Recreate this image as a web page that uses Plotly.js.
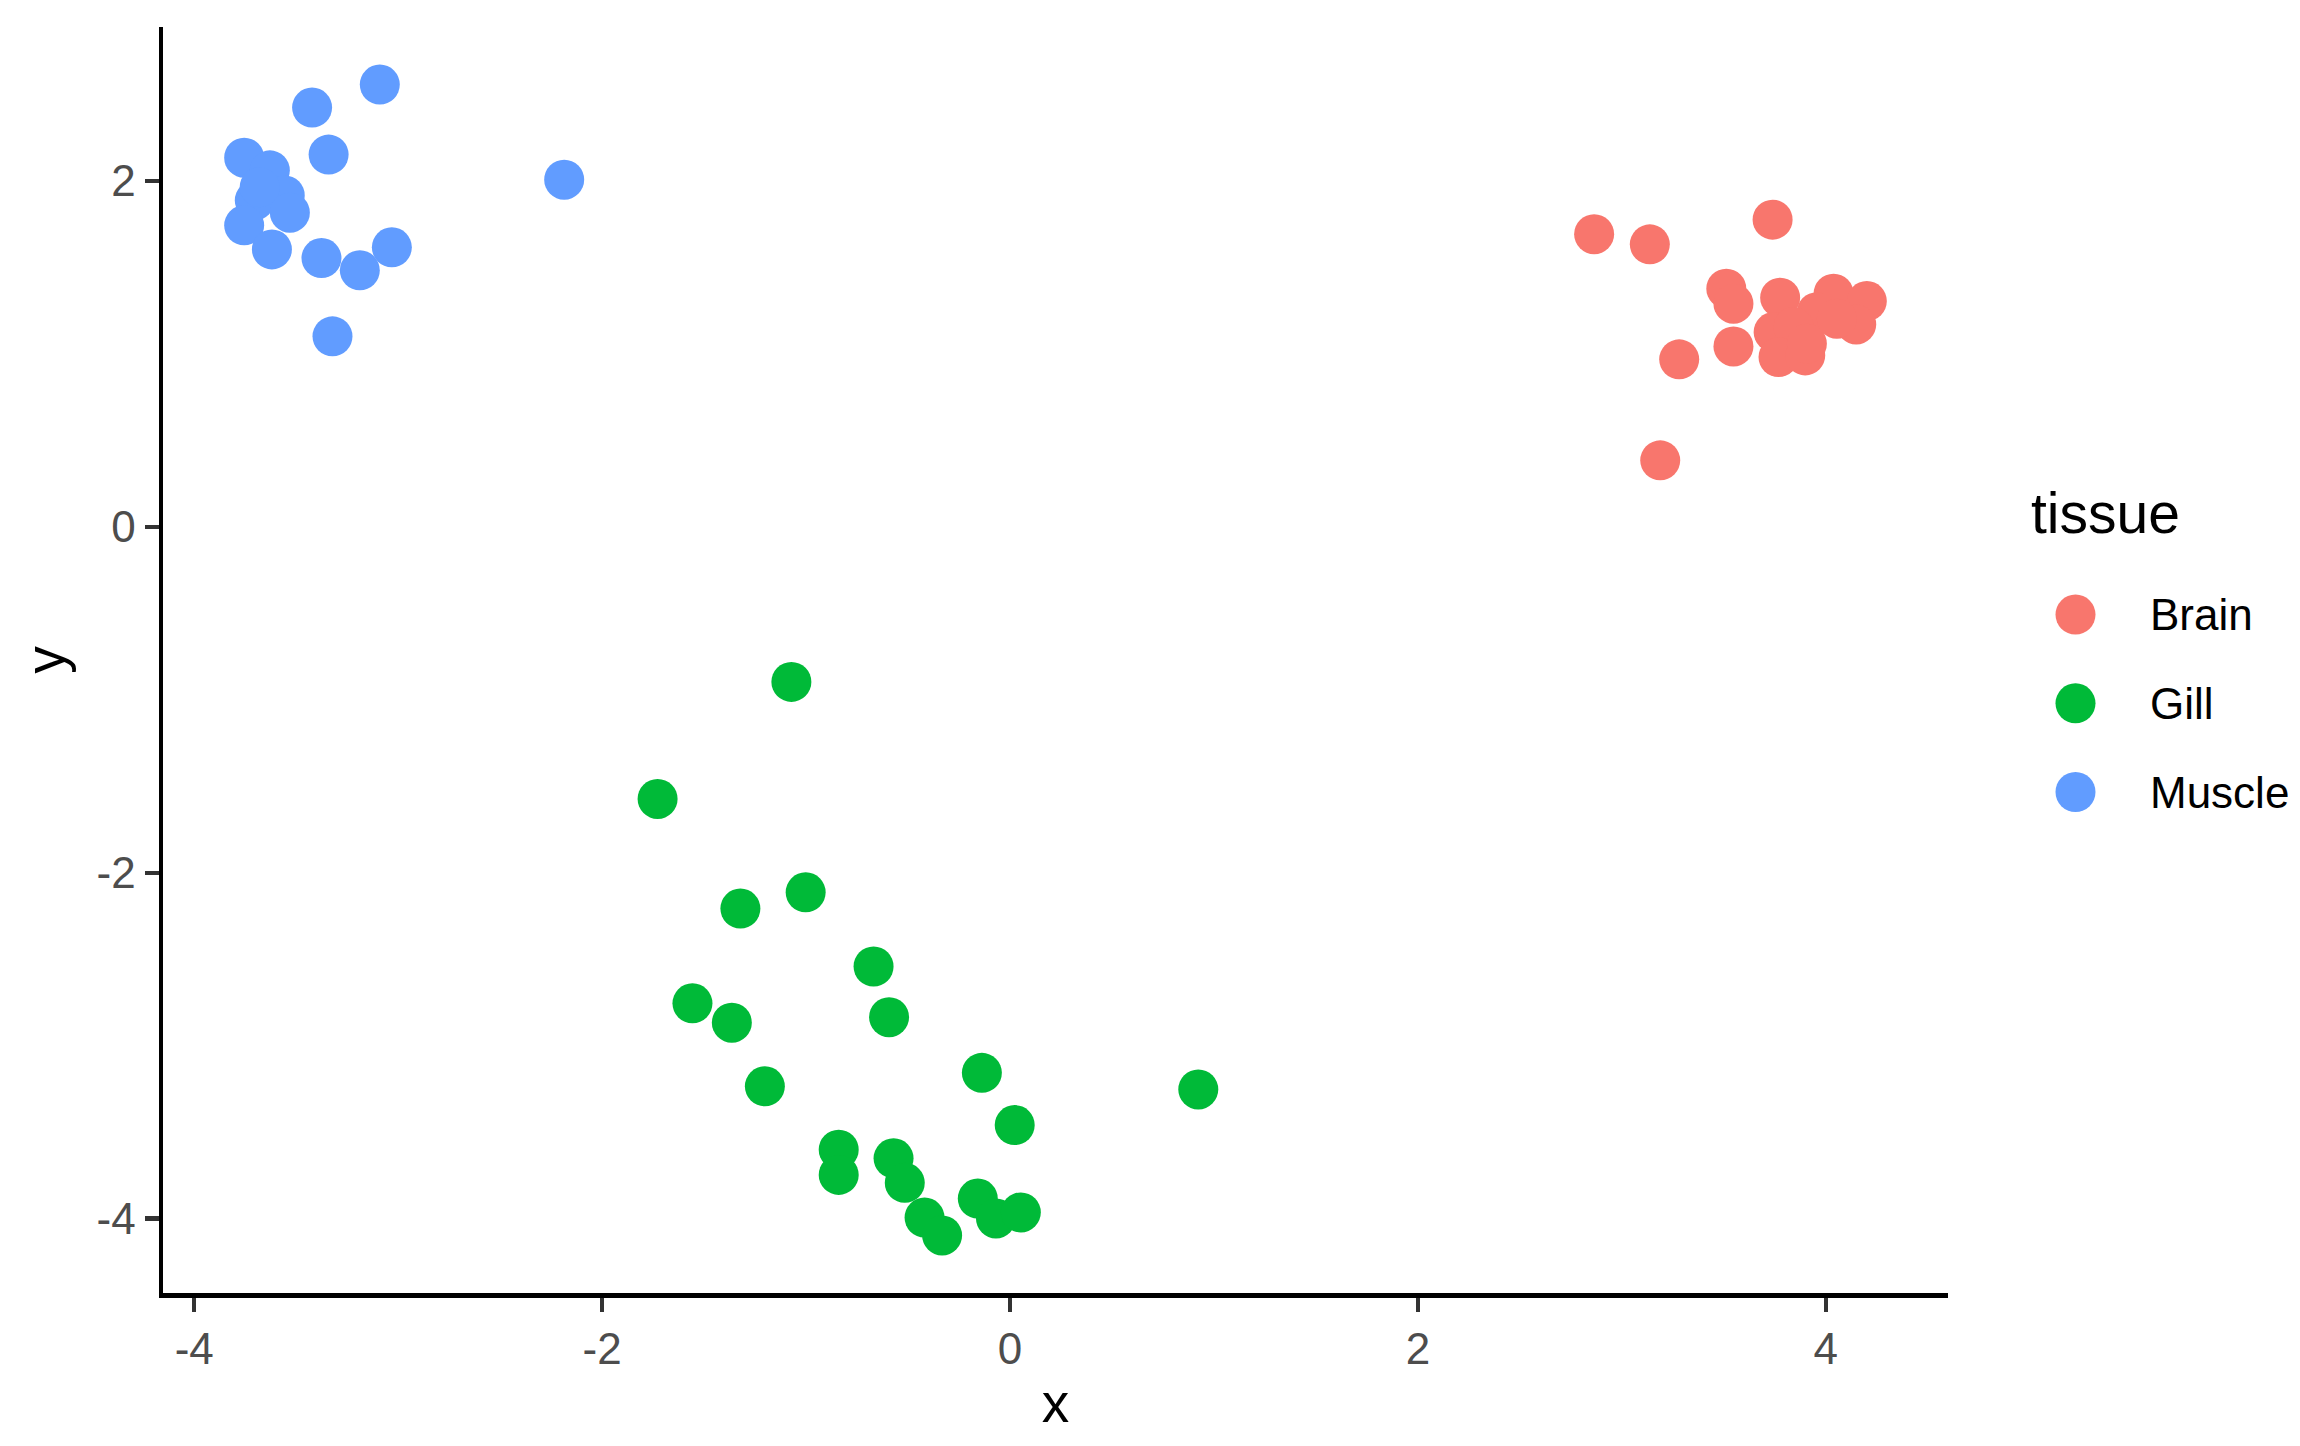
<!DOCTYPE html>
<html>
<head>
<meta charset="utf-8">
<script src="https://cdn.plot.ly/plotly-3.0.1.min.js"></script>
<style>html,body{margin:0;padding:0;background:#fff;}#chart{width:2300px;height:1446px;}</style>
</head>
<body>
<div id="chart"></div>
<script>
// ---- data ----
var categories = ["Brain", "Gill", "Muscle"];
var colors = ["#F8766D", "#00BA38", "#619CFF"];

var brainX = [2.864, 3.137, 3.739, 3.512, 3.547, 3.776, 4.038, 4.201, 4.149, 3.956, 3.744, 3.842, 3.547, 3.281, 3.768, 3.899, 3.907, 4.054, 3.188];
var brainY = [1.693, 1.634, 1.777, 1.378, 1.291, 1.326, 1.349, 1.306, 1.171, 1.242, 1.127, 1.156, 1.044, 0.969, 0.982, 0.992, 1.060, 1.204, 0.385];

var gillX = [-1.072, -1.728, -1.002, -1.322, -0.669, -1.557, -1.364, -0.593, -1.202, -0.138, 0.923, 0.023, -0.840, -0.840, -0.571, -0.516, -0.158, -0.069, -0.419, -0.333, 0.053];
var gillY = [-0.896, -1.573, -2.113, -2.207, -2.542, -2.755, -2.867, -2.835, -3.235, -3.157, -3.253, -3.459, -3.601, -3.747, -3.651, -3.793, -3.884, -3.999, -3.994, -4.097, -3.964];

var muscleX = [-3.090, -3.422, -3.341, -3.755, -2.186, -3.629, -3.556, -3.703, -3.531, -3.755, -3.679, -3.619, -3.376, -3.188, -3.031, -3.322];
var muscleY = [2.558, 2.425, 2.153, 2.135, 2.008, 2.062, 1.917, 1.888, 1.817, 1.744, 1.965, 1.605, 1.555, 1.484, 1.617, 1.102];

var tickVals = [-4, -2, 0, 2, 4];
var tickText = ["-4", "-2", "0", "2", "4"];
var xTitle = "x";
var yTitle = "y";
var legendTitle = "tissue";

// ---- build ----
var W = 2300, H = 1446;
var mL = 163, mR = 0, mT = 27, mB = 153;
var plotW = W - mL - mR;
var mainRight = 1948;
var xDom = (mainRight - mL) / plotW;
var legDom0 = 0.86;
var FONT = "Liberation Sans, Arial, sans-serif";

var seriesX = [brainX, gillX, muscleX];
var seriesY = [brainY, gillY, muscleY];
var traces = [];
categories.forEach(function (c, i) {
  traces.push({
    type: "scatter", mode: "markers", name: c,
    x: seriesX[i], y: seriesY[i],
    marker: {size: 40, color: colors[i], line: {width: 0}},
    showlegend: false, hoverinfo: "skip", cliponaxis: false
  });
});

// custom legend (large keys like ggplot)
var legTop = 614.6, legStep = 88.7;
var legMarkerX = 2075.5, legTextX = 2148;
var legY = categories.map(function (c, i) { return legTop + i * legStep; });
traces.push({
  type: "scatter", mode: "markers", xaxis: "x2", yaxis: "y2",
  x: categories.map(function () { return legMarkerX; }), y: legY,
  marker: {size: 40, color: colors, line: {width: 0}},
  showlegend: false, hoverinfo: "skip", cliponaxis: false
});

var annotations = categories.map(function (c, i) {
  return {xref: "x2", yref: "y2", x: legTextX, y: legY[i], text: c, showarrow: false,
    xanchor: "left", yanchor: "middle",
    font: {family: FONT, size: 44, color: "#000000"}};
});
annotations.push({xref: "x2", yref: "y2", x: 2029, y: 513, text: legendTitle, showarrow: false,
  xanchor: "left", yanchor: "middle",
  font: {family: FONT, size: 57, color: "#000000"}});

var axisCommon = {
  showline: true, linecolor: "#000000", linewidth: 4.5, mirror: false,
  showgrid: false, zeroline: false,
  ticks: "outside", ticklen: 14, tickwidth: 4.5, tickcolor: "#333333",
  tickmode: "array", tickvals: tickVals, ticktext: tickText,
  tickfont: {family: FONT, size: 44, color: "#4D4D4D"}
};

var layout = {
  width: W, height: H,
  margin: {l: mL, r: mR, t: mT, b: mB, pad: 0},
  paper_bgcolor: "#ffffff", plot_bgcolor: "#ffffff",
  showlegend: false,
  xaxis: Object.assign({}, axisCommon, {
    domain: [0, xDom], range: [-4.153, 4.599], anchor: "y",
    title: {text: xTitle, standoff: 12, font: {family: FONT, size: 55, color: "#000000"}}
  }),
  yaxis: Object.assign({}, axisCommon, {
    domain: [0, 1], range: [-4.430, 2.891], anchor: "x",
    title: {text: yTitle, standoff: 16, font: {family: FONT, size: 55, color: "#000000"}}
  }),
  xaxis2: {domain: [legDom0, 1], range: [mL + legDom0 * plotW, W], visible: false, fixedrange: true, anchor: "y2"},
  yaxis2: {domain: [0, 1], range: [H - mB, mT], visible: false, fixedrange: true, anchor: "x2"},
  annotations: annotations
};

Plotly.newPlot("chart", traces, layout, {staticPlot: true, displayModeBar: false});
</script>
</body>
</html>
